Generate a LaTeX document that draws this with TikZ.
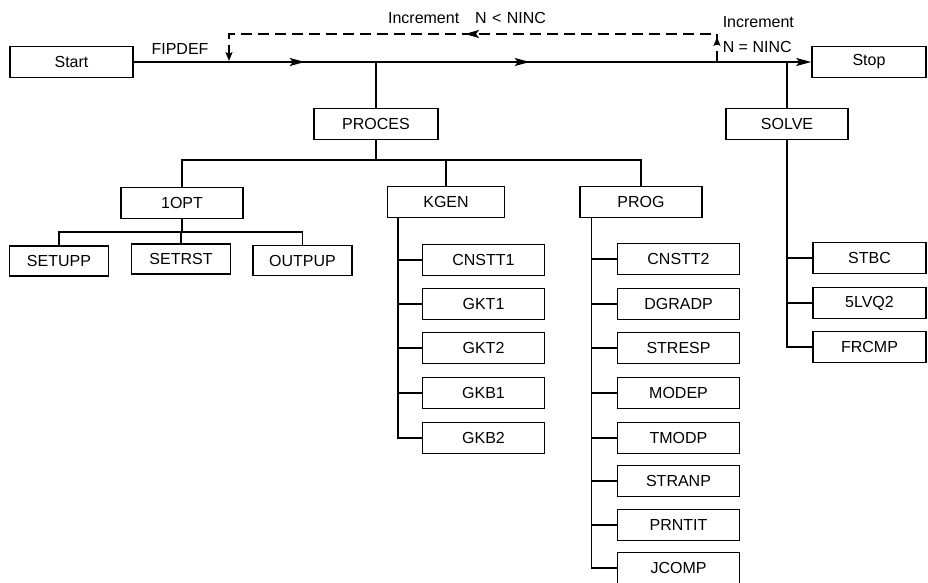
\documentclass[tikz,border=0pt]{standalone}
\usepackage{fontspec}
\setmainfont{Liberation Sans}
\usetikzlibrary{arrows.meta,decorations.markings}
\begin{document}
\begin{tikzpicture}[x=1pt,y=-1pt,line width=1.5pt,
  box/.style={draw,inner sep=0pt,minimum height=31pt},
  lbl/.style={inner sep=0pt},
  tipend/.style={-{Stealth[length=15pt,width=8pt,inset=3pt]}},
  font=\fontsize{16}{19}\selectfont]
\useasboundingbox (0,0) rectangle (928,583);

% top level
\node[box,minimum width=123pt] (start) at (71.5,62) {Start};
\node[box,minimum width=114pt] (stop) at (869,62) {Stop};
\node[box,minimum width=124pt] (proces) at (376,124) {PROCES};
\node[box,minimum width=122pt] (solve) at (787,124) {SOLVE};

% labels
\node[lbl] (fipdef) at (180,49) {FIPDEF};
\node[lbl] (inclt) at (467,18) {Increment\hspace{16pt}N\,\,<\,\,NINC};
\node[lbl,anchor=west] (inc) at (722,22) {Increment};
\node[lbl,anchor=west] (neq) at (722,47) {N = NINC};

% second level
\node[box,minimum width=122pt] (iopt) at (182,203) {1OPT};
\node[box,minimum width=117pt] (kgen) at (446,202) {KGEN};
\node[box,minimum width=122pt] (prog) at (641,202) {PROG};

% IOPT children
\node[box,minimum width=99pt,minimum height=30pt] (setupp) at (59,261) {SETUPP};
\node[box,minimum width=99pt,minimum height=30pt] (setrst) at (181,259) {SETRST};
\node[box,minimum width=99pt,minimum height=30pt] (outpup) at (302.5,260.5) {OUTPUP};

% KGEN children
\node[box,minimum width=122pt] (cnstt1) at (483.5,260) {CNSTT1};
\node[box,minimum width=122pt] (gkt1) at (483.5,304) {GKT1};
\node[box,minimum width=122pt] (gkt2) at (483.5,348) {GKT2};
\node[box,minimum width=122pt] (gkb1) at (483.5,393) {GKB1};
\node[box,minimum width=122pt] (gkb2) at (483.5,438) {GKB2};

% PROG children
\node[box,minimum width=122pt] (cnstt2) at (678.5,259) {CNSTT2};
\node[box,minimum width=122pt] (dgradp) at (678.5,304) {DGRADP};
\node[box,minimum width=122pt] (stresp) at (678.5,348) {STRESP};
\node[box,minimum width=122pt] (modep) at (678.5,393) {MODEP};
\node[box,minimum width=122pt] (tmodp) at (678.5,438) {TMODP};
\node[box,minimum width=122pt] (stranp) at (678.5,481) {STRANP};
\node[box,minimum width=122pt] (prntit) at (678.5,525) {PRNTIT};
\node[box,minimum width=122pt] (jcomp) at (678.5,568) {JCOMP};

% SOLVE children
\node[box,minimum width=113pt] (stbc) at (869.5,258) {STBC};
\node[box,minimum width=113pt] (slvq) at (869.5,303) {5LVQ2};
\node[box,minimum width=113pt] (frcmp) at (869.5,347) {FRCMP};

% main line
\draw[tipend,postaction={decorate},decoration={markings,
  mark=at position 171pt with {\arrow{Stealth[length=15pt,width=8pt,inset=3pt]}},
  mark=at position 396pt with {\arrow{Stealth[length=15pt,width=8pt,inset=3pt]}}}]
  (start.east) -- (stop.west);

\coordinate (fj) at (229,62);
\coordinate (dj) at (717,62);
\draw[dash pattern=on 11pt off 6pt,-{Stealth[length=9pt,width=7pt,inset=2pt]},shorten >=1pt,postaction={decorate},decoration={markings,
  mark=at position 25pt with {\arrow{Stealth[length=9pt,width=7pt,inset=2pt]}},
  mark=at position 280pt with {\arrow{Stealth[length=14pt,width=8pt,inset=3pt]}}}]
  (dj) -- (717,34) -- (229,34) -- (fj);

\draw (proces.north |- start.east) -- (proces.north);
\draw (solve.north |- stop.west) -- (solve.north);

% PROCES tree
\coordinate (pb) at (376,160);
\draw (proces.south) -- (pb);
\draw (iopt.north) |- (pb) -| (prog.north);
\draw (pb -| kgen.north) -- (kgen.north);

% IOPT tree
\coordinate (ib) at (182,232);
\draw (setupp.north) |- (ib) -| (outpup.north);
\draw (iopt.south) -- (ib) -- (ib -| setrst.north) -- (setrst.north);

% KGEN tree
\foreach \c in {cnstt1,gkt1,gkt2,gkb1,gkb2}
  \draw ([xshift=11pt]kgen.south west) |- (\c.west);

% PROG tree
\foreach \c in {cnstt2,dgradp,stresp,modep,tmodp,stranp,prntit,jcomp}
  \draw ([xshift=12pt]prog.south west) |- (\c.west);

% SOLVE tree
\foreach \c in {stbc,slvq,frcmp}
  \draw (solve.south) |- (\c.west);
\end{tikzpicture}
\end{document}
